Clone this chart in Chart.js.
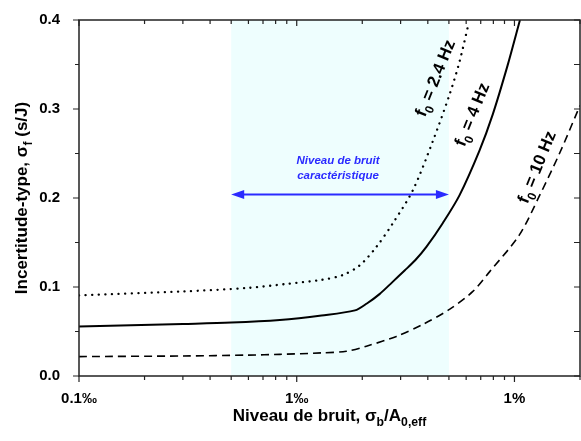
<!DOCTYPE html>
<html>
<head>
<meta charset="utf-8">
<script src="https://cdn.jsdelivr.net/npm/chart.js@4.4.0/dist/chart.umd.min.js"></script>
<style>
  html, body { margin: 0; padding: 0; background: #fff; }
</style>
</head>
<body>
<canvas id="noiseChart" width="581" height="441"></canvas>
<script>
// ===== DATA =====
// noise level sigma_b / A0,eff (fraction) vs standard uncertainty sigma_f (s/J)
const x24 = [0.0001, 0.0003, 0.0006, 0.0009, 0.0013, 0.00163, 0.00195, 0.00232, 0.00277, 0.00342, 0.00422, 0.00503, 0.00559, 0.00617];
const y24 = [0.0906, 0.095, 0.099, 0.1035, 0.108, 0.1135, 0.1245, 0.145, 0.172, 0.209, 0.264, 0.316, 0.353, 0.397];

const x4 = [0.0001, 0.0003, 0.0005, 0.000836, 0.0013, 0.00185, 0.0021, 0.0024, 0.00275, 0.00313, 0.0035, 0.00394, 0.00469, 0.00559, 0.0069, 0.00795, 0.0093, 0.0106];
const y4 = [0.0556, 0.0585, 0.060, 0.063, 0.068, 0.0737, 0.0815, 0.092, 0.1055, 0.1185, 0.130, 0.145, 0.172, 0.203, 0.253, 0.294, 0.349, 0.40];

const x10 = [0.0001, 0.0003, 0.0006, 0.000836, 0.0013, 0.00169, 0.00209, 0.00287, 0.0038, 0.00503, 0.00644, 0.00768, 0.0105, 0.013, 0.0161, 0.0195, 0.02];
const y10 = [0.0218, 0.0225, 0.0235, 0.0243, 0.026, 0.0278, 0.0335, 0.0445, 0.058, 0.0748, 0.095, 0.117, 0.158, 0.202, 0.25, 0.2976, 0.304];

const xTickValues = [0.0001, 0.001, 0.01];
const xTickLabels = ['0.1‰', '1‰', '1%'];
const yTickValues = [0, 0.1, 0.2, 0.3, 0.4];

const shadeRange = [0.0005, 0.005];   // "niveau de bruit caractéristique"
const arrowLevel = 0.204;

const curveLabels = [
  { freq: '2.4', x: 0.0043, y: 0.335 },
  { freq: '4', x: 0.00635, y: 0.294 },
  { freq: '10', x: 0.0126, y: 0.235 }
];

const FONT = '"Liberation Sans", Arial, sans-serif';

function toPoints(xs, ys) {
  return xs.map((x, i) => ({ x: x, y: ys[i] }));
}

// draw text made of normal / subscript parts
function drawRich(ctx, parts, x, y, size) {
  let w = 0;
  parts.forEach(p => {
    ctx.font = 'bold ' + (p[1] ? size * 0.72 : size) + 'px ' + FONT;
    w += ctx.measureText(p[0]).width;
  });
  let cx = x - w / 2;
  parts.forEach(p => {
    ctx.font = 'bold ' + (p[1] ? size * 0.72 : size) + 'px ' + FONT;
    ctx.fillText(p[0], cx, y + (p[1] ? size * 0.3 : 0));
    cx += ctx.measureText(p[0]).width;
  });
}

// ===== PLUGIN: shade, frame, ticks, arrow, labels =====
const decorations = {
  id: 'decorations',
  beforeDatasetsDraw(chart) {
    const { ctx, chartArea: a, scales: { x } } = chart;
    const x0 = x.getPixelForValue(shadeRange[0]);
    const x1 = x.getPixelForValue(shadeRange[1]);
    ctx.save();
    ctx.fillStyle = '#eefefe';
    ctx.fillRect(x0, a.top, x1 - x0, a.bottom - a.top);
    ctx.restore();
  },
  afterDatasetsDraw(chart) {
    const { ctx, chartArea: a, scales: { x, y } } = chart;
    ctx.save();

    // frame
    ctx.strokeStyle = '#222';
    ctx.lineWidth = 1.5;
    ctx.strokeRect(a.left, a.top, a.right - a.left, a.bottom - a.top);

    // x ticks (bottom outward, top inward)
    ctx.lineWidth = 1.2;
    ctx.beginPath();
    for (let d = 0.0001; d < 0.05; d *= 10) {
      for (let k = 1; k <= 9; k++) {
        const v = d * k;
        if (v > 0.0201) break;
        const px = x.getPixelForValue(v);
        const len = k === 1 ? 6 : 4;
        ctx.moveTo(px, a.bottom); ctx.lineTo(px, a.bottom + len);
        ctx.moveTo(px, a.top); ctx.lineTo(px, a.top + len);
      }
    }
    // y ticks (left outward, right inward)
    for (let i = 0; i <= 8; i++) {
      const v = i * 0.05;
      const py = y.getPixelForValue(v);
      const len = i % 2 === 0 ? 6 : 4;
      ctx.moveTo(a.left, py); ctx.lineTo(a.left - len, py);
      ctx.moveTo(a.right, py); ctx.lineTo(a.right - 6, py);
    }
    ctx.stroke();

    // double arrow
    const ax0 = x.getPixelForValue(shadeRange[0]);
    const ax1 = x.getPixelForValue(shadeRange[1]);
    const ay = y.getPixelForValue(arrowLevel);
    ctx.strokeStyle = '#2a2aff';
    ctx.fillStyle = '#2a2aff';
    ctx.lineWidth = 2;
    ctx.beginPath();
    ctx.moveTo(ax0 + 8, ay); ctx.lineTo(ax1 - 8, ay);
    ctx.stroke();
    ctx.beginPath();
    ctx.moveTo(ax0, ay); ctx.lineTo(ax0 + 13, ay - 4.5); ctx.lineTo(ax0 + 13, ay + 4.5); ctx.closePath();
    ctx.moveTo(ax1, ay); ctx.lineTo(ax1 - 13, ay - 4.5); ctx.lineTo(ax1 - 13, ay + 4.5); ctx.closePath();
    ctx.fill();

    ctx.font = 'italic bold 11.5px ' + FONT;
    ctx.textAlign = 'center';
    ctx.textBaseline = 'middle';
    const tx = (ax0 + ax1) / 2 - 2;
    ctx.fillText('Niveau de bruit', tx, ay - 34);
    ctx.fillText('caractéristique', tx, ay - 19);

    // curve labels
    ctx.fillStyle = '#000';
    ctx.textAlign = 'left';
    ctx.textBaseline = 'alphabetic';
    curveLabels.forEach(l => {
      ctx.save();
      ctx.translate(x.getPixelForValue(l.x), y.getPixelForValue(l.y));
      ctx.rotate(-68 * Math.PI / 180);
      drawRich(ctx, [['f', false], ['0', true], [' = ' + l.freq + ' Hz', false]], 0, 6, 17);
      ctx.restore();
    });

    // axis titles
    ctx.fillStyle = '#000';
    drawRich(ctx, [['Niveau de bruit, σ', false], ['b', true], ['/A', false], ['0,eff', true]],
      (a.left + a.right) / 2, 421, 17);
    ctx.save();
    ctx.translate(27, (a.top + a.bottom) / 2);
    ctx.rotate(-Math.PI / 2);
    drawRich(ctx, [['Incertitude-type, σ', false], ['f', true], [' (s/J)', false]], 0, 0, 17);
    ctx.restore();

    ctx.restore();
  }
};

// ===== CHART =====
const ctx = document.getElementById('noiseChart').getContext('2d');
new Chart(ctx, {
  type: 'line',
  data: {
    datasets: [
      {
        label: 'f0 = 2.4 Hz',
        data: toPoints(x24, y24),
        borderColor: '#000',
        borderWidth: 2.3,
        borderDash: [0.1, 6.5],
        borderCapStyle: 'round',
        pointRadius: 0,
        tension: 0.3
      },
      {
        label: 'f0 = 4 Hz',
        data: toPoints(x4, y4),
        borderColor: '#000',
        borderWidth: 2,
        pointRadius: 0,
        tension: 0.3
      },
      {
        label: 'f0 = 10 Hz',
        data: toPoints(x10, y10),
        borderColor: '#000',
        borderWidth: 1.6,
        borderDash: [8, 5],
        pointRadius: 0,
        tension: 0.3
      }
    ]
  },
  options: {
    responsive: false,
    animation: false,
    layout: { padding: { top: 14, right: 1, left: 0, bottom: 0 } },
    plugins: { legend: { display: false }, tooltip: { enabled: false } },
    scales: {
      x: {
        type: 'logarithmic',
        min: 0.0001,
        max: 0.02,
        grid: { display: false },
        border: { display: false },
        afterBuildTicks: (scale) => {
          scale.ticks = xTickValues.map(v => ({ value: v }));
        },
        afterFit: (scale) => { scale.height = 65; },
        ticks: {
          padding: 6,
          maxRotation: 0,
          autoSkip: false,
          color: '#000',
          font: { family: FONT, size: 15, weight: 'bold' },
          callback: (v) => {
            const i = xTickValues.findIndex(t => Math.abs(t - v) / t < 1e-6);
            return i >= 0 ? xTickLabels[i] : '';
          }
        }
      },
      y: {
        min: 0,
        max: 0.4,
        grid: { display: false },
        border: { display: false },
        afterBuildTicks: (scale) => {
          scale.ticks = yTickValues.map(v => ({ value: v }));
        },
        afterFit: (scale) => { scale.width = 79; },
        ticks: {
          padding: 11,
          color: '#000',
          font: { family: FONT, size: 15, weight: 'bold' },
          callback: (v) => v.toFixed(1)
        }
      }
    }
  },
  plugins: [decorations]
});
</script>
</body>
</html>
